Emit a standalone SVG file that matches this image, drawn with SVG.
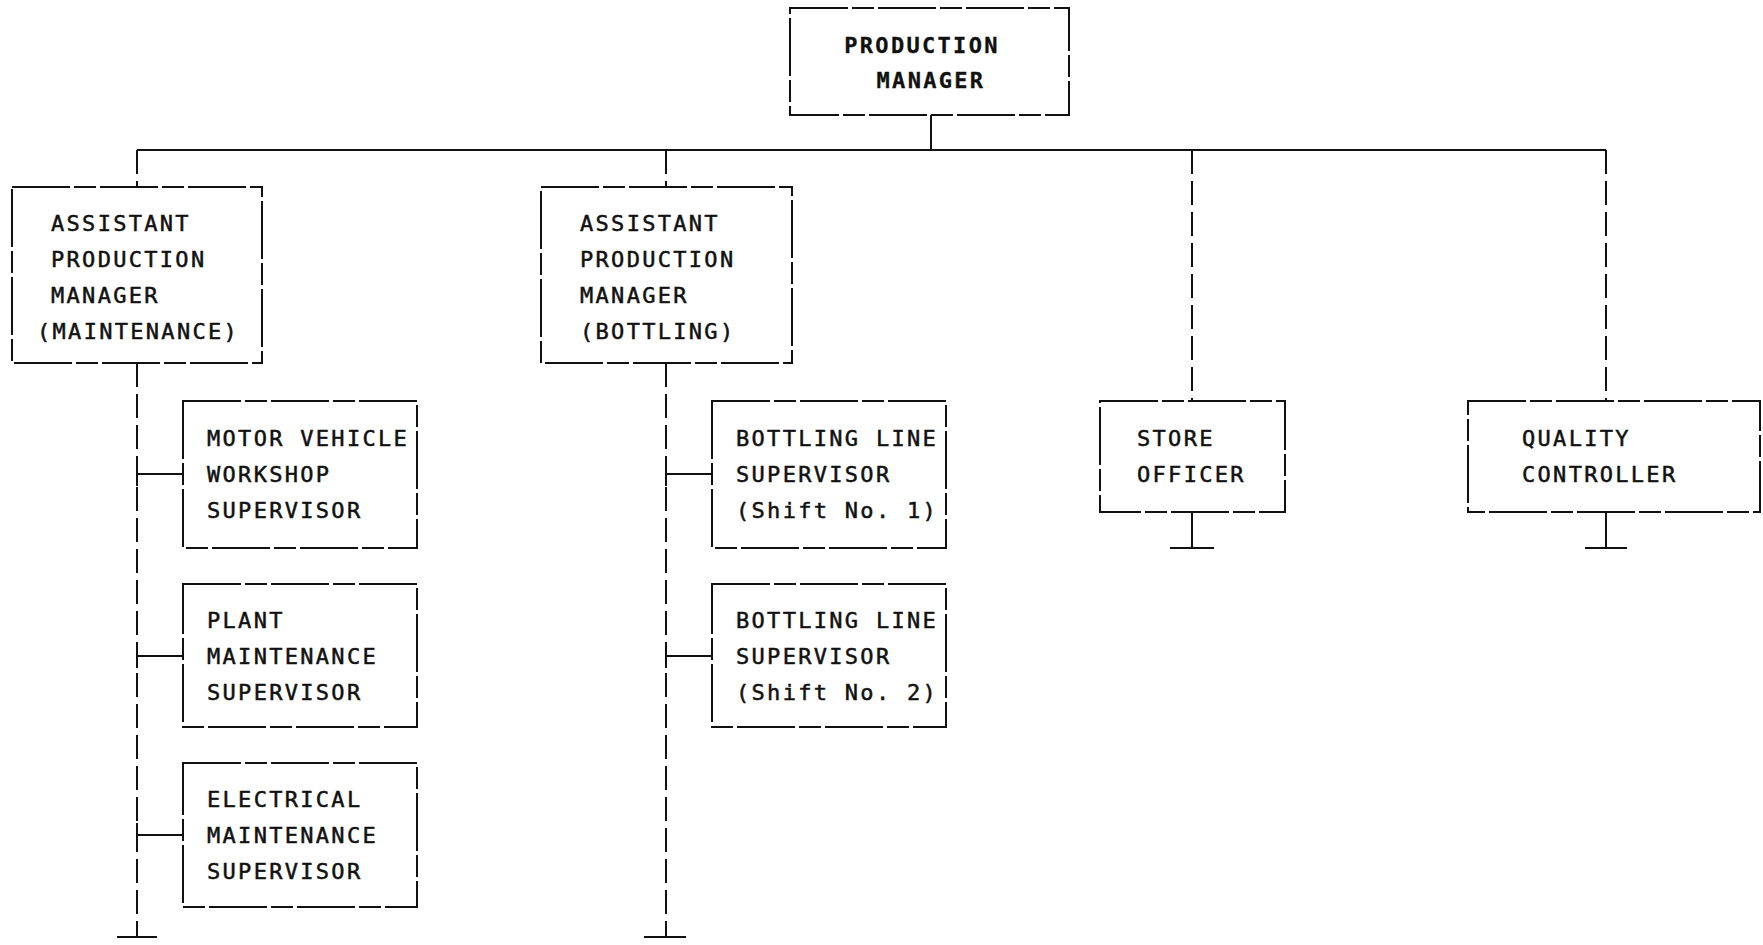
<svg xmlns="http://www.w3.org/2000/svg" width="1763" height="945" viewBox="0 0 1763 945">
<style>
.box{fill:none;stroke:#111;stroke-width:2;stroke-dasharray:58 4 22 4}
.ln{fill:none;stroke:#111;stroke-width:2;stroke-dasharray:24 7}
.sl{fill:none;stroke:#111;stroke-width:2}
text{font-family:"DejaVu Sans Mono","Liberation Mono",monospace;font-size:22px;letter-spacing:2.3px;fill:#111;stroke:#111;stroke-width:0.5}
.b{font-weight:bold;stroke-width:0.3}
</style>
<rect width="1763" height="945" fill="#fff"/>
<g id="connectors">
<path class="sl" d="M931 115V150"/>
<path class="sl" d="M137 150H1606"/>
<path class="ln" d="M137 150V187M666 150V187M1192 150V401M1606 150V401"/>
<path class="ln" d="M137 363V937M666 363V937"/>
<path class="sl" d="M117 937H157M644 937H686"/>
<path class="sl" d="M137 474H183M137 462V486M137 656H183M137 644V668M137 835H183M137 823V847"/>
<path class="sl" d="M666 474H712M666 462V486M666 656H712M666 644V668"/>
<path class="sl" d="M1192 512V548M1170 548H1214M1606 512V548M1585 548H1627"/>
</g>
<g id="production-manager">
<rect class="box" x="790" y="8" width="279" height="107"/>
<text class="b" x="922" y="53" text-anchor="middle">PRODUCTION</text>
<text class="b" x="931" y="88" text-anchor="middle">MANAGER</text>
</g>
<g id="apm-maintenance">
<rect class="box" x="12" y="187" width="250" height="176"/>
<text x="51" y="231">ASSISTANT</text>
<text x="51" y="267">PRODUCTION</text>
<text x="51" y="303">MANAGER</text>
<text x="37" y="339">(MAINTENANCE)</text>
</g>
<g id="apm-bottling">
<rect class="box" x="541" y="187" width="251" height="176"/>
<text x="580" y="231">ASSISTANT</text>
<text x="580" y="267">PRODUCTION</text>
<text x="580" y="303">MANAGER</text>
<text x="580" y="339">(BOTTLING)</text>
</g>
<g id="motor-vehicle">
<rect class="box" x="183" y="401" width="234" height="147"/>
<text x="207" y="446">MOTOR VEHICLE</text>
<text x="207" y="482">WORKSHOP</text>
<text x="207" y="518">SUPERVISOR</text>
</g>
<g id="plant-maintenance">
<rect class="box" x="183" y="584" width="234" height="143"/>
<text x="207" y="628">PLANT</text>
<text x="207" y="664">MAINTENANCE</text>
<text x="207" y="700">SUPERVISOR</text>
</g>
<g id="electrical-maintenance">
<rect class="box" x="183" y="763" width="234" height="144"/>
<text x="207" y="807">ELECTRICAL</text>
<text x="207" y="843">MAINTENANCE</text>
<text x="207" y="879">SUPERVISOR</text>
</g>
<g id="bottling-shift1">
<rect class="box" x="712" y="401" width="234" height="147"/>
<text x="736" y="446">BOTTLING LINE</text>
<text x="736" y="482">SUPERVISOR</text>
<text x="736" y="518">(Shift No. 1)</text>
</g>
<g id="bottling-shift2">
<rect class="box" x="712" y="584" width="234" height="143"/>
<text x="736" y="628">BOTTLING LINE</text>
<text x="736" y="664">SUPERVISOR</text>
<text x="736" y="700">(Shift No. 2)</text>
</g>
<g id="store-officer">
<rect class="box" x="1100" y="401" width="185" height="111"/>
<text x="1137" y="446">STORE</text>
<text x="1137" y="482">OFFICER</text>
</g>
<g id="quality-controller">
<rect class="box" x="1468" y="401" width="292" height="111"/>
<text x="1522" y="446">QUALITY</text>
<text x="1522" y="482">CONTROLLER</text>
</g>
</svg>
